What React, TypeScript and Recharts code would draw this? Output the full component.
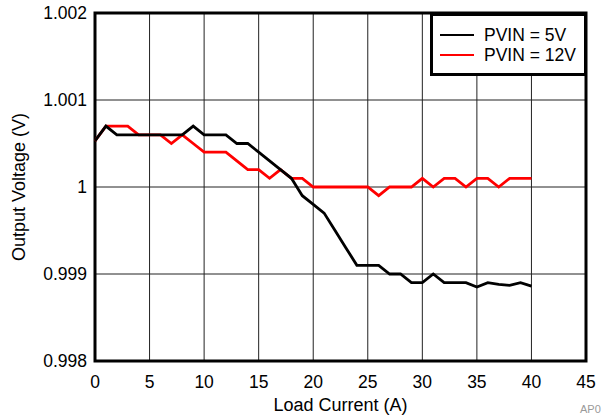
import { LineChart, Line, XAxis, YAxis, CartesianGrid, ReferenceArea } from 'recharts';

const loadCurrent = [
  0, 1, 2, 3, 4, 5, 6, 7, 8, 9, 10, 11, 12, 13, 14, 15, 16, 17, 18, 19, 20,
  21, 22, 23, 24, 25, 26, 27, 28, 29, 30, 31, 32, 33, 34, 35, 36, 37, 38, 39, 40,
];

const pvin5 = [
  1.00053, 1.0007, 1.0006, 1.0006, 1.0006, 1.0006, 1.0006, 1.0006, 1.0006, 1.0007, 1.0006,
  1.0006, 1.0006, 1.0005, 1.0005, 1.0004, 1.0003, 1.0002, 1.0001, 0.9999, 0.9998,
  0.9997, 0.9995, 0.9993, 0.9991, 0.9991, 0.9991, 0.999, 0.999, 0.9989, 0.9989,
  0.999, 0.9989, 0.9989, 0.9989, 0.99885, 0.9989, 0.99888, 0.99887, 0.9989, 0.99886,
];

const pvin12 = [
  1.00053, 1.0007, 1.0007, 1.0007, 1.0006, 1.0006, 1.0006, 1.0005, 1.0006, 1.0005, 1.0004,
  1.0004, 1.0004, 1.0003, 1.0002, 1.0002, 1.0001, 1.0002, 1.0001, 1.0001, 1.0,
  1.0, 1.0, 1.0, 1.0, 1.0, 0.9999, 1.0, 1.0, 1.0, 1.0001,
  1.0, 1.0001, 1.0001, 1.0, 1.0001, 1.0001, 1.0, 1.0001, 1.0001, 1.0001,
];

const xTicks = [0, 5, 10, 15, 20, 25, 30, 35, 40, 45];
const yTicks = [0.998, 0.999, 1, 1.001, 1.002];

const seriesNames = ['PVIN = 5V', 'PVIN = 12V'];
const seriesColors = ['#000000', '#ff0000'];

const data = loadCurrent.map((x, i) => ({ x, v5: pvin5[i], v12: pvin12[i] }));

const font = '"Liberation Sans", Arial, Helvetica, sans-serif';

const LegendBox = () => (
  <div
    style={{
      position: 'absolute',
      left: 430,
      top: 13,
      width: 157,
      height: 63,
      boxSizing: 'border-box',
      border: '3px solid #000',
      background: '#fff',
      fontFamily: font,
      fontSize: 17.5,
      color: '#000',
    }}
  >
    {seriesNames.map((name, i) => (
      <div
        key={name}
        style={{ position: 'absolute', left: 7, top: 9 + i * 20, height: 20, display: 'flex', alignItems: 'center' }}
      >
        <span style={{ display: 'inline-block', width: 34, height: 2, background: seriesColors[i], marginRight: 10 }} />
        <span style={{ lineHeight: '20px', whiteSpace: 'nowrap' }}>{name}</span>
      </div>
    ))}
  </div>
);

export default function App() {
  return (
    <div style={{ position: 'fixed', left: 0, top: 0, width: 604, height: 415, background: '#fff' }}>
      <LineChart
        width={604}
        height={415}
        data={data}
        margin={{ top: 13, right: 18, left: 0, bottom: 0 }}
        style={{ fontFamily: font }}
      >
        <CartesianGrid stroke="#222" strokeWidth={1} />
        <XAxis
          dataKey="x"
          type="number"
          domain={[0, 45]}
          ticks={xTicks}
          height={54}
          axisLine={false}
          tickLine={false}
          tickSize={6}
          tickMargin={9}
          tick={{ fill: '#000', fontSize: 17.5 }}
          interval={0}
          label={{ value: 'Load Current (A)', position: 'insideBottom', offset: 4, fill: '#000', fontSize: 18 }}
        />
        <YAxis
          type="number"
          domain={[0.998, 1.002]}
          ticks={yTicks}
          width={95}
          axisLine={false}
          tickLine={false}
          tickSize={0}
          tickMargin={8}
          tick={{ fill: '#000', fontSize: 17.5 }}
          interval={0}
          allowDataOverflow
          label={{
            value: 'Output Voltage (V)',
            angle: -90,
            position: 'insideLeft',
            offset: 19,
            fill: '#000',
            fontSize: 18,
            style: { textAnchor: 'middle' },
          }}
        />
        <Line
          type="linear"
          dataKey="v12"
          stroke={seriesColors[1]}
          strokeWidth={2.8}
          dot={false}
          isAnimationActive={false}
        />
        <Line
          type="linear"
          dataKey="v5"
          stroke={seriesColors[0]}
          strokeWidth={2.8}
          dot={false}
          isAnimationActive={false}
        />
        <ReferenceArea
          x1={0}
          x2={45}
          y1={0.998}
          y2={1.002}
          fill="none"
          fillOpacity={0}
          stroke="#000"
          strokeWidth={3}
        />
      </LineChart>
      <LegendBox />
      <div
        style={{
          position: 'absolute',
          left: 580,
          top: 403,
          fontFamily: font,
          fontSize: 11,
          color: '#9a9a9a',
          whiteSpace: 'nowrap',
        }}
      >
        AP0
      </div>
    </div>
  );
}
